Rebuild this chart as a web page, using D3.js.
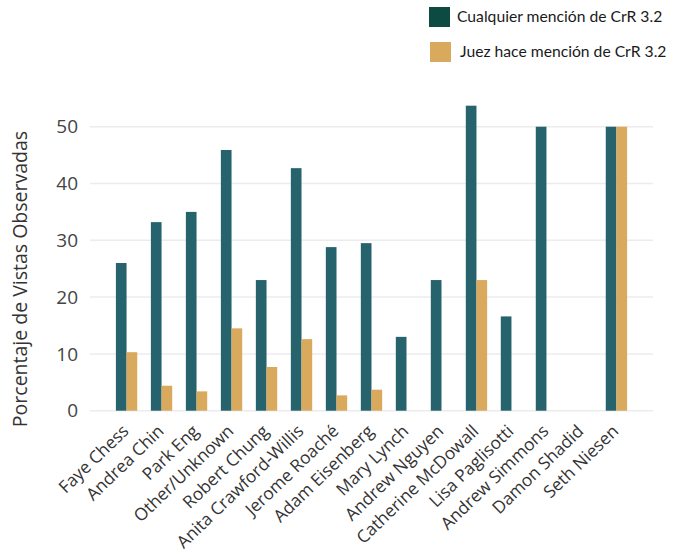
<!DOCTYPE html>
<html>
<head>
<meta charset="utf-8">
<script src="https://cdn.jsdelivr.net/npm/d3@7"></script>
<style>
  body { margin: 0; background: #fff; }
  text { font-family: "Open Sans", sans-serif; }
  .legend text { font-family: Lato, sans-serif; }
</style>
</head>
<body>
<div class="plot"></div>
<script>
var judges = ["Faye Chess", "Andrea Chin", "Park Eng", "Other/Unknown", "Robert Chung",
    "Anita Crawford-Willis", "Jerome Roaché", "Adam Eisenberg", "Mary Lynch", "Andrew Nguyen",
    "Catherine McDowall", "Lisa Paglisotti", "Andrew Simmons", "Damon Shadid", "Seth Niesen"];
var anyMention = [26, 33.2, 35, 45.9, 23, 42.7, 28.8, 29.5, 13, 23, 53.7, 16.6, 50, 0, 50];
var judgeMention = [10.3, 4.4, 3.4, 14.5, 7.7, 12.6, 2.7, 3.7, 0, 0, 23, 0, 0, 0, 50];
var seriesNames = ["Cualquier mención de CrR 3.2", "Juez hace mención de CrR 3.2"];
var yTicks = [0, 10, 20, 30, 40, 50];

var width = 680,
    height = 554;

var barColors = ["#26636d", "#d9a95e"],
    legendColors = ["#0c4a42", "#d9a95e"];

var x = d3.scaleBand()
    .domain(judges)
    .range([90, 653])
    .paddingInner(0.39)
    .paddingOuter(0.74);

var xs = d3.scaleBand()
    .domain([0, 1])
    .range([0, x.bandwidth()]);

var y = d3.scaleLinear()
    .domain([0, 50])
    .range([410.7, 126.7]);

var svg = d3.select(".plot").append("svg")
    .attr("width", width)
    .attr("height", height);

// gridlines
svg.append("g")
  .selectAll("line")
  .data(yTicks)
  .enter().append("line")
    .attr("x1", 90)
    .attr("x2", 653)
    .attr("y1", function(d) { return y(d); })
    .attr("y2", function(d) { return y(d); })
    .style("stroke", "#ececec")
    .style("stroke-width", 1.5);

// y tick labels
svg.append("g")
  .selectAll("text")
  .data(yTicks)
  .enter().append("text")
    .attr("x", 78)
    .attr("y", function(d) { return y(d); })
    .attr("dy", "0.35em")
    .attr("text-anchor", "end")
    .style("font-size", "19px")
    .style("fill", "#444")
    .text(function(d) { return d; });

svg.append("text")
    .attr("transform", "translate(27,279) rotate(-90)")
    .attr("text-anchor", "middle")
    .style("font-size", "19.5px")
    .style("fill", "#333")
    .text("Porcentaje de Vistas Observadas");

// bars
var rows = judges.map(function(j, i) { return {name: j, values: [anyMention[i], judgeMention[i]]}; });

var group = svg.selectAll(".group")
    .data(rows)
  .enter().append("g")
    .attr("class", "group")
    .attr("transform", function(d) { return "translate(" + x(d.name) + ",0)"; });

group.selectAll("rect")
    .data(function(d) { return d.values.map(function(v, k) { return {k: k, v: v}; }); })
  .enter().append("rect")
    .filter(function(d) { return d.v > 0; })
    .attr("x", function(d) { return xs(d.k); })
    .attr("width", xs.bandwidth())
    .attr("y", function(d) { return y(d.v); })
    .attr("height", function(d) { return y(0) - y(d.v); })
    .style("fill", function(d) { return barColors[d.k]; });

// x labels
svg.append("g")
  .selectAll("text")
  .data(judges)
  .enter().append("text")
    .attr("transform", function(d) { return "translate(" + (x(d) + x.bandwidth() / 2 - 1) + ",428) rotate(-44)"; })
    .attr("text-anchor", "end")
    .attr("dy", "0.35em")
    .style("font-size", "17.3px")
    .style("fill", "#333")
    .text(function(d) { return d; });

// legend
var legend = svg.selectAll(".legend")
    .data(seriesNames)
  .enter().append("g")
    .attr("class", "legend")
    .attr("transform", function(d, i) { return "translate(" + (429 + i) + "," + (7 + i * 35) + ")"; });

legend.append("rect")
    .attr("width", 21)
    .attr("height", 20)
    .style("fill", function(d, i) { return legendColors[i]; });

legend.append("text")
    .attr("x", function(d, i) { return 28 + i * 2; })
    .attr("y", 10)
    .attr("dy", "0.35em")
    .style("font-size", "15.7px")
    .style("fill", "#1a1a1a")
    .text(function(d) { return d; });
</script>
</body>
</html>
